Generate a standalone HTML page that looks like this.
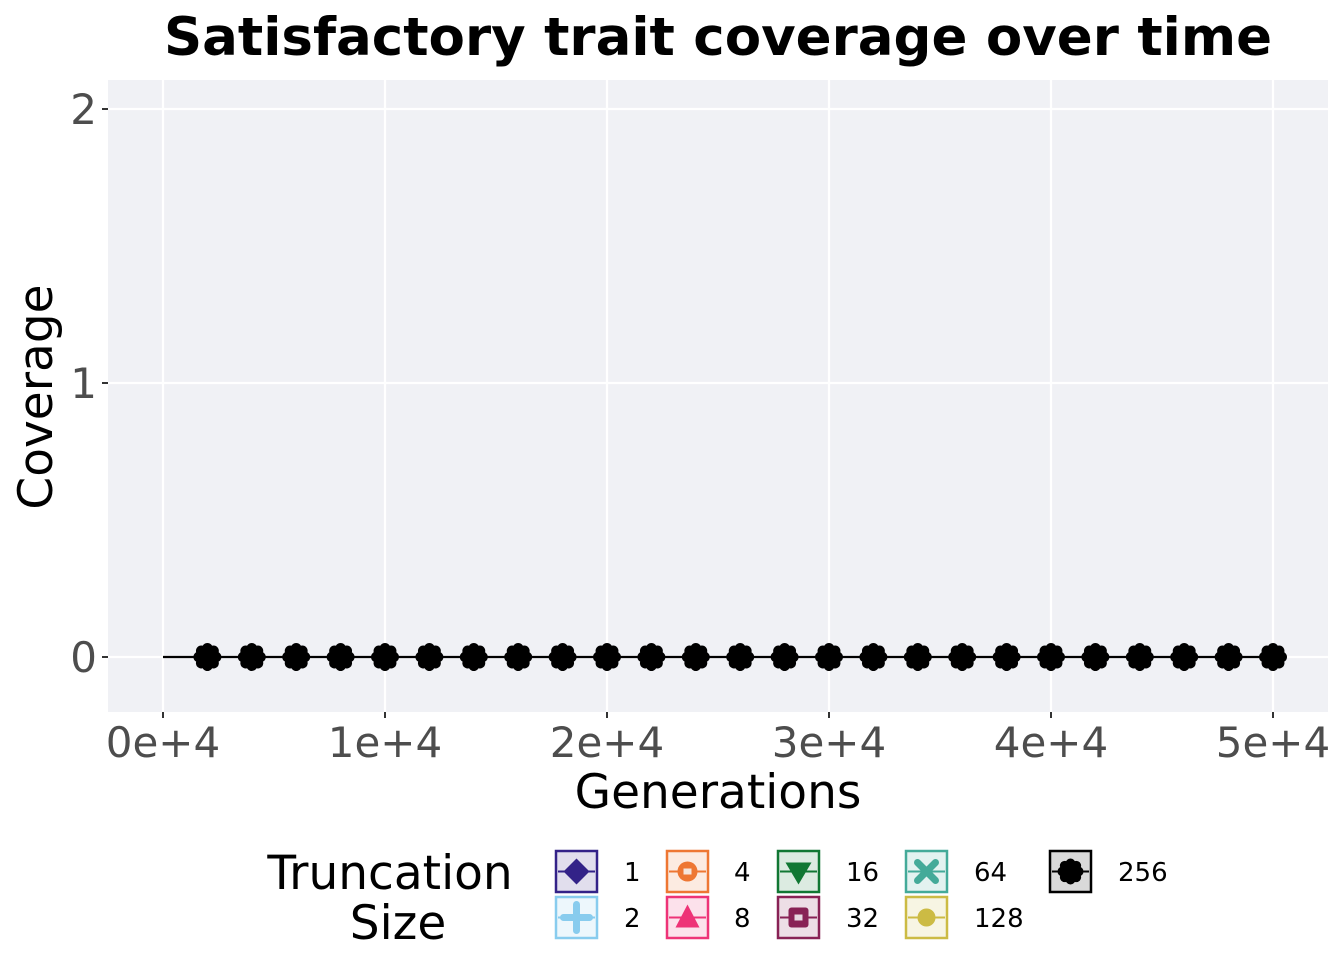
<!DOCTYPE html>
<html><head><meta charset="utf-8"><style>
body{margin:0;background:#fff;font-family:"Liberation Sans","DejaVu Sans",sans-serif}
</style></head><body>
<svg id="chart" width="1344" height="960" xmlns="http://www.w3.org/2000/svg" font-family="DejaVu Sans, Liberation Sans, sans-serif">
<text x="718" y="55" text-anchor="middle" font-size="53" font-weight="bold">Satisfactory trait coverage over time</text>
<rect x="108" y="80" width="1220" height="632" fill="#f0f1f5"/>
<g id="grid"></g>
<g id="series"></g>
<g id="axes"></g>
<text x="718" y="808" text-anchor="middle" font-size="47">Generations</text>
<text transform="translate(52,397) rotate(-90)" text-anchor="middle" font-size="47">Coverage</text>
<text x="390" y="889" text-anchor="middle" font-size="47"><tspan x="390">Truncation</tspan><tspan x="398" dy="50">Size</tspan></text>
<g id="legend"></g>
</svg>
<script>
const generations=[2000,4000,6000,8000,10000,12000,14000,16000,18000,20000,22000,24000,26000,28000,30000,32000,34000,36000,38000,40000,42000,44000,46000,48000,50000];
const coverage=[0,0,0,0,0,0,0,0,0,0,0,0,0,0,0,0,0,0,0,0,0,0,0,0,0];
const xTicks=[0,10000,20000,30000,40000,50000];
const xTickLabels=["0e+4","1e+4","2e+4","3e+4","4e+4","5e+4"];
const yTicks=[0,1,2];
const sizes=["1","2","4","8","16","32","64","128","256"];
const colors=["#332288","#88ccee","#ee7733","#ee3377","#117733","#882255","#44aa99","#ccbb44","#000000"];
const NS="http://www.w3.org/2000/svg";
const X=v=>163+v*(1273-163)/50000;
const Y=v=>657-v*(657-383);
function mk(t,a,p){const e=document.createElementNS(NS,t);for(const k in a)e.setAttribute(k,a[k]);p.appendChild(e);return e;}
const grid=document.getElementById('grid'),axes=document.getElementById('axes'),series=document.getElementById('series'),legend=document.getElementById('legend');
xTicks.forEach((t,i)=>{
 const g=mk('line',{x1:X(t),x2:X(t),y1:80,y2:712,stroke:'#fff','stroke-width':2.2},grid);
 
 
 mk('line',{x1:X(t),x2:X(t),y1:712,y2:718,stroke:'#333','stroke-width':2},axes);
 const l=mk('text',{x:X(t),y:757,'text-anchor':'middle','font-size':42,fill:'#4d4d4d'},axes);
 l.textContent=xTickLabels[i];
 
 
});
yTicks.forEach(t=>{
 const g=mk('line',{x1:108,x2:1328,y1:Y(t),y2:Y(t),stroke:'#fff','stroke-width':2.2},grid);
 
 
 mk('line',{x1:102,x2:108,y1:Y(t),y2:Y(t),stroke:'#333','stroke-width':2},axes);
 const l=mk('text',{x:97,y:Y(t)+15,'text-anchor':'end','font-size':42,fill:'#4d4d4d'},axes);
 l.textContent=t;
 
 
});
const line=mk('polyline',{points:[[X(0),Y(0)]].concat(generations.map((g,i)=>[X(g),Y(coverage[i])])).map(p=>p.join(',')).join(' '),fill:'none',stroke:'#000','stroke-width':2.2},series);


function flower(cx,cy,r,col,p){
 const g=mk('g',{fill:col},p);
 for(let k=0;k<8;k++){const a=k*Math.PI/4;mk('circle',{cx:cx+Math.cos(a)*r*0.62,cy:cy+Math.sin(a)*r*0.62,r:r*0.38},g);}
 mk('circle',{cx,cy,r:r*0.62},g);return g;
}
function glyph(i,cx,cy,col,p){
 const g=mk('g',{fill:col,stroke:col},p);
 if(i==0){mk('polygon',{points:`${cx},${cy-13} ${cx+13},${cy} ${cx},${cy+13} ${cx-13},${cy}`,stroke:'none'},g);}
 else if(i==1){mk('path',{d:`M${cx-13},${cy}H${cx+13}M${cx},${cy-13}V${cy+13}`,'stroke-width':7,'stroke-linecap':'round',fill:'none'},g);}
 else if(i==2){mk('circle',{cx,cy,r:10,stroke:'none'},g);mk('rect',{x:cx-4,y:cy-3,width:8,height:6,fill:'#f5e6dc',stroke:'none'},g);}
 else if(i==3){mk('polygon',{points:`${cx},${cy-13} ${cx+12},${cy+10} ${cx-12},${cy+10}`,stroke:'none'},g);}
 else if(i==4){mk('polygon',{points:`${cx-13},${cy-9} ${cx+13},${cy-9} ${cx},${cy+13}`,stroke:'none'},g);}
 else if(i==5){mk('rect',{x:cx-10,y:cy-10,width:20,height:20,rx:3,stroke:'none'},g);mk('rect',{x:cx-4,y:cy-3,width:8,height:6,fill:'#e6d8e0',stroke:'none'},g);}
 else if(i==6){mk('path',{d:`M${cx-9},${cy-9}L${cx+9},${cy+9}M${cx+9},${cy-9}L${cx-9},${cy+9}`,'stroke-width':7,'stroke-linecap':'round',fill:'none'},g);}
 else if(i==7){mk('circle',{cx,cy,r:9,stroke:'none'},g);}
 else {g.setAttribute('stroke','none');flower(cx,cy,13,col,g);}
}
generations.forEach((g,i)=>{
 const cx=X(g),cy=Y(coverage[i]);
 mk('circle',{cx:cx,cy:cy-9,r:4,fill:'#ee3377'},series);
 mk('circle',{cx:cx,cy:cy+9,r:4,fill:'#117733'},series);
 const m=flower(cx,cy,14,'#000',series);
 
 
});
const colX=[555,666,777,905,1049],lblX=[624,734,846,974,1118];
sizes.forEach((s,i)=>{
 const c=Math.floor(i/2),r=i%2;const x=colX[c],y=850+r*46;
 const g=mk('g',{},legend);
 
 
 mk('rect',{x:x+1,y:y+1,width:41,height:41,fill:colors[i],'fill-opacity':0.15,stroke:colors[i],'stroke-width':2.5},g);
 mk('line',{x1:x+3,x2:x+40,y1:y+21.5,y2:y+21.5,stroke:colors[i],'stroke-width':2},g);
 glyph(i,x+21.5,y+21.5,colors[i],g);
 const t=mk('text',{x:lblX[c],y:y+31,'font-size':26,fill:'#000'},g);t.textContent=s;
});
</script>
</body></html>
